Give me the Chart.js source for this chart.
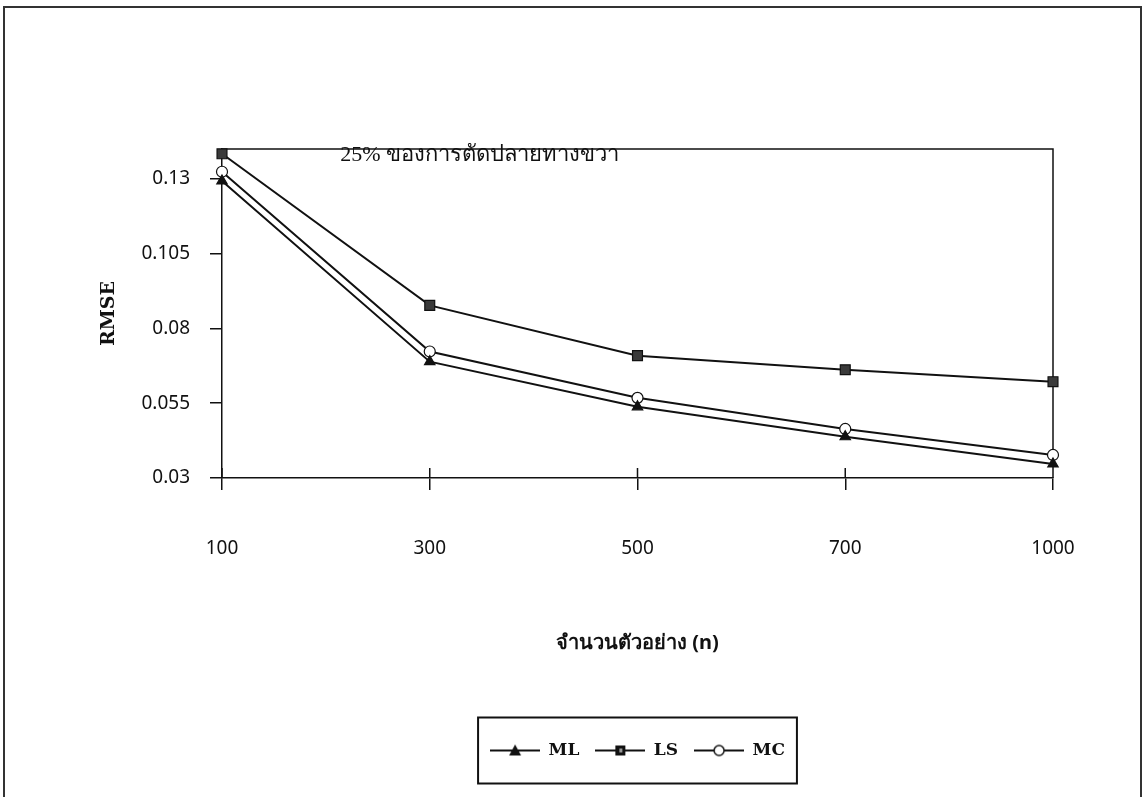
<!DOCTYPE html>
<html lang="th">
<head>
  <meta charset="UTF-8" />
  <title>RMSE - 25% ของการตัดปลายทางขวา</title>
  <script src="https://cdn.jsdelivr.net/npm/chart.js"></script>
  <style>
    html, body { margin: 0; padding: 0; background: #fff; }
    #moldura { position: absolute; left: 3px; top: 6px; width: 1139px; height: 900px; border: 2px solid #333; box-sizing: border-box; }
    #caixa { position: absolute; left: 0; top: 0; width: 1147px; height: 797px; }
  </style>
</head>
<body>
  <div id="moldura"></div>
  <div id="caixa"><canvas id="grafico"></canvas></div>

  <script>
    // ขนาดตัวอย่าง (n)
    const amostras = ['100', '300', '500', '700', '1000'];
    // RMSE por método
    const rmseML = [0.1293, 0.0689, 0.0538, 0.0438, 0.0347];
    const rmseLS = [0.1384, 0.0877, 0.0709, 0.0662, 0.0622];
    const rmseMC = [0.1324, 0.0723, 0.0568, 0.0464, 0.0377];
    const ticksY = [0.03, 0.055, 0.08, 0.105, 0.13];

    const titulo = '25% ของการตัดปลายทางขวา';
    const PRETO = '#111';

    // ícone da legenda: linha com marcador no meio
    function iconeLegenda(tipo) {
      const c = document.createElement('canvas');
      c.width = 50; c.height = 16;
      const g = c.getContext('2d');
      g.strokeStyle = PRETO; g.lineWidth = 2;
      g.beginPath(); g.moveTo(0, 8); g.lineTo(50, 8); g.stroke();
      g.fillStyle = PRETO;
      if (tipo === 'triangle') {
        g.beginPath(); g.moveTo(25, 2); g.lineTo(31, 13); g.lineTo(19, 13); g.closePath(); g.fill();
      } else if (tipo === 'rect') {
        g.fillRect(20, 3, 10, 10);
        g.fillStyle = '#999'; g.fillRect(24, 6, 3, 4);
      } else {
        g.fillStyle = '#fff'; g.lineWidth = 1.5;
        g.beginPath(); g.arc(25, 8, 5, 0, Math.PI * 2); g.fill(); g.stroke();
      }
      return c;
    }
    const icones = [iconeLegenda('triangle'), iconeLegenda('rect'), iconeLegenda('circle')];

    const extras = {
      id: 'extras',
      beforeDatasetsDraw(chart) {
        const { ctx, chartArea: a, scales: { x } } = chart;
        ctx.save();
        ctx.strokeStyle = PRETO;
        ctx.lineWidth = 1.5;
        ctx.beginPath();
        ctx.moveTo(a.left, a.top); ctx.lineTo(a.right, a.top); ctx.lineTo(a.right, a.bottom);
        // parte de dentro das marcas do eixo x
        x.ticks.forEach((t, i) => {
          const px = x.getPixelForTick(i);
          ctx.moveTo(px, a.bottom); ctx.lineTo(px, a.bottom - 10);
        });
        ctx.stroke();
        ctx.restore();
      },
      afterDraw(chart) {
        const { ctx, chartArea: a } = chart;
        ctx.save();
        ctx.fillStyle = PRETO;
        ctx.font = "22px 'Liberation Serif', serif";
        ctx.textAlign = 'center';
        ctx.textBaseline = 'middle';
        ctx.fillText(titulo, a.left + (a.right - a.left) * 0.31, a.top + 6);

        // caixa da legenda
        const caixas = chart.legend.legendHitBoxes;
        if (caixas && caixas.length) {
          const ult = caixas[caixas.length - 1];
          const esq = caixas[0].left - 12;
          const dir = ult.left + ult.width + 12;
          const cy = caixas[0].top + caixas[0].height / 2;
          ctx.strokeStyle = PRETO;
          ctx.lineWidth = 2;
          ctx.strokeRect(esq, cy - 33, dir - esq, 66);
        }
        ctx.restore();
      }
    };

    const base = { borderColor: PRETO, borderWidth: 2, pointBorderColor: PRETO, pointBorderWidth: 1.2, clip: false, tension: 0 };

    new Chart(document.getElementById('grafico'), {
      type: 'line',
      data: {
        labels: amostras,
        datasets: [
          { ...base, label: 'ML', data: rmseML, pointStyle: 'triangle', pointRadius: 6, pointBackgroundColor: PRETO, backgroundColor: PRETO },
          { ...base, label: 'LS', data: rmseLS, pointStyle: 'rect', pointRadius: 7, pointBackgroundColor: '#3a3a3a', backgroundColor: '#3a3a3a' },
          { ...base, label: 'MC', data: rmseMC, pointStyle: 'circle', pointRadius: 5.5, pointBackgroundColor: '#fff', backgroundColor: '#fff' }
        ]
      },
      options: {
        responsive: true,
        maintainAspectRatio: false,
        animation: false,
        layout: { padding: { left: 60, right: 94, top: 149, bottom: 28 } },
        plugins: {
          tooltip: { enabled: false },
          legend: {
            position: 'bottom',
            fullSize: false,
            labels: {
              usePointStyle: true,
              pointStyleWidth: 50,
              padding: 16,
              color: PRETO,
              font: { family: "'DejaVu Serif', serif", size: 17, weight: 'bold' },
              generateLabels: chart => Chart.defaults.plugins.legend.labels.generateLabels(chart)
                .map((item, i) => ({ ...item, pointStyle: icones[i] }))
            }
          }
        },
        scales: {
          x: {
            offset: false,
            grid: { drawOnChartArea: false, tickLength: 12, color: PRETO, lineWidth: 1.5 },
            border: { color: PRETO, width: 1.5 },
            ticks: { padding: 47, color: PRETO, font: { family: "'Noto Sans', sans-serif", size: 19 } },
            title: {
              display: true,
              text: 'จำนวนตัวอย่าง (n)',
              color: PRETO,
              font: { family: "'Noto Sans', sans-serif", size: 20, weight: 'bold' },
              padding: { top: 0, bottom: 71 }
            },
            afterFit: s => { s.height = 248; }
          },
          y: {
            min: 0.03,
            max: 0.14,
            afterBuildTicks: s => { s.ticks = ticksY.map(v => ({ value: v })); },
            grid: { drawOnChartArea: false, tickLength: 12, color: PRETO, lineWidth: 1.5 },
            border: { color: PRETO, width: 1.5 },
            ticks: { padding: 20, color: PRETO, font: { family: "'Noto Sans', sans-serif", size: 19 }, callback: v => String(v) },
            title: {
              display: true,
              text: 'RMSE',
              color: PRETO,
              font: { family: "'DejaVu Serif', serif", size: 19, weight: 'bold' },
              padding: { top: 38, bottom: 0 }
            },
            afterFit: s => { s.width = 162; }
          }
        }
      },
      plugins: [extras]
    });
  </script>
</body>
</html>
